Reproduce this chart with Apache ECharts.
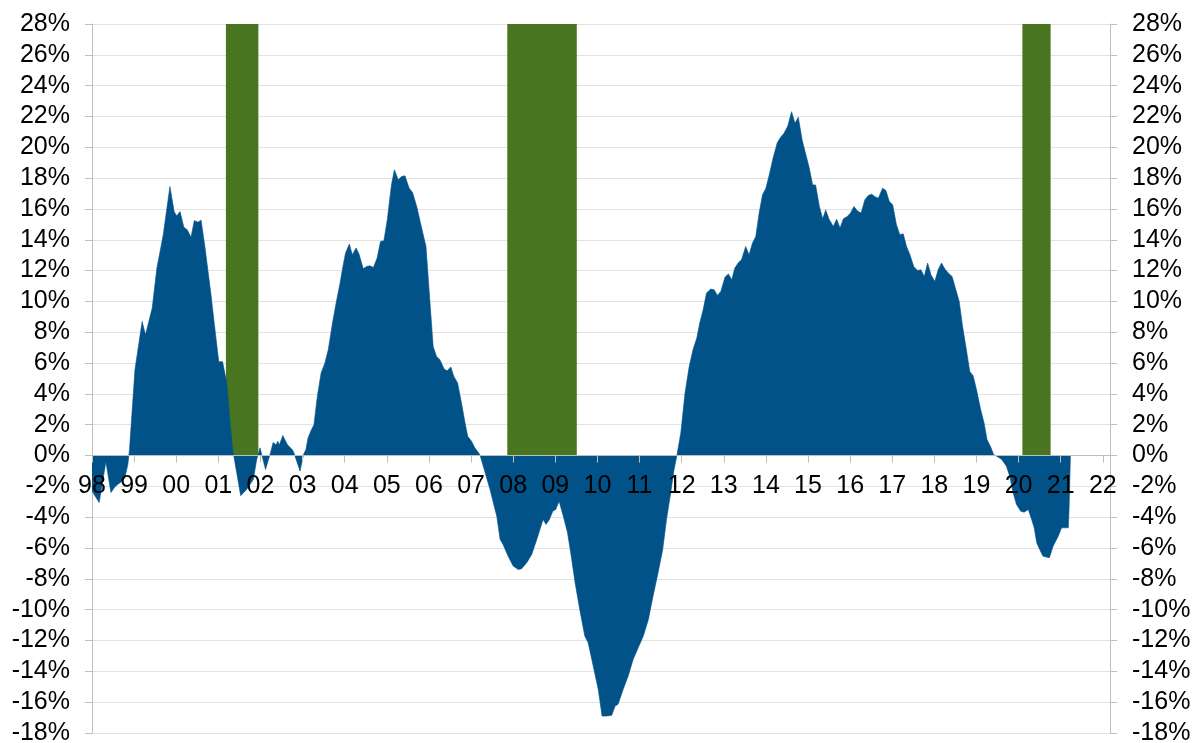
<!DOCTYPE html>
<html>
<head>
<meta charset="utf-8">
<title>Year-over-year change</title>
<script src="https://cdn.jsdelivr.net/npm/echarts@6/dist/echarts.min.js"></script>
<style>
  html, body { margin: 0; padding: 0; background: #fff; }
  #chart { width: 1196px; height: 743px; }
</style>
</head>
<body>
<div id="chart"></div>
<script>
// Observation dates as decimal years
const dates = [
  1998.00, 1998.17, 1998.33, 1998.45, 1998.55, 1998.71, 1998.78, 1998.85, 1998.89,
  1999.02, 1999.19, 1999.27, 1999.43, 1999.54, 1999.69, 1999.85, 1999.95,
  2000.01, 2000.09, 2000.18, 2000.26, 2000.35, 2000.43, 2000.51, 2000.59, 2000.68, 2000.82, 2000.92,
  2001.01, 2001.10, 2001.20, 2001.28, 2001.34, 2001.53, 2001.67, 2001.83, 2001.91, 2001.99,
  2002.12, 2002.24, 2002.30, 2002.37, 2002.41, 2002.45, 2002.53, 2002.64, 2002.74, 2002.78, 2002.94,
  2003.02, 2003.08, 2003.13, 2003.21, 2003.27, 2003.35, 2003.44, 2003.53, 2003.61, 2003.71, 2003.81, 2003.89, 2003.95,
  2004.02, 2004.11, 2004.18, 2004.27, 2004.34, 2004.44, 2004.52, 2004.60, 2004.68, 2004.77, 2004.85, 2004.93,
  2005.01, 2005.11, 2005.18, 2005.27, 2005.35, 2005.43, 2005.53, 2005.61, 2005.71, 2005.80, 2005.93,
  2006.02, 2006.10, 2006.18, 2006.26, 2006.36, 2006.43, 2006.52, 2006.59, 2006.68, 2006.78, 2006.85, 2006.92,
  2007.01, 2007.09, 2007.21, 2007.45, 2007.61, 2007.69, 2007.76, 2007.88,
  2008.00, 2008.12, 2008.20, 2008.32, 2008.44, 2008.56, 2008.66, 2008.71, 2008.78, 2008.86, 2008.94,
  2009.01, 2009.09, 2009.19, 2009.29, 2009.39, 2009.47, 2009.58, 2009.70, 2009.78, 2009.90,
  2010.02, 2010.11, 2010.22, 2010.34, 2010.42, 2010.49, 2010.61, 2010.73, 2010.85, 2010.97,
  2011.09, 2011.21, 2011.32, 2011.44, 2011.55, 2011.64, 2011.74, 2011.82, 2011.88, 2011.98,
  2012.08, 2012.18, 2012.27, 2012.36, 2012.43, 2012.51, 2012.59, 2012.69, 2012.77, 2012.85, 2012.93,
  2013.03, 2013.11, 2013.19, 2013.26, 2013.34, 2013.42, 2013.52, 2013.60, 2013.68, 2013.76, 2013.84, 2013.92,
  2014.00, 2014.08, 2014.17, 2014.27, 2014.35, 2014.43, 2014.52, 2014.61, 2014.69, 2014.77, 2014.86, 2014.95,
  2015.03, 2015.11, 2015.18, 2015.27, 2015.35, 2015.42, 2015.50, 2015.60, 2015.68, 2015.76, 2015.84, 2015.93,
  2016.01, 2016.09, 2016.17, 2016.26, 2016.35, 2016.43, 2016.51, 2016.59, 2016.67, 2016.77, 2016.85, 2016.93,
  2017.01, 2017.10, 2017.18, 2017.26, 2017.34, 2017.42, 2017.51, 2017.60, 2017.68, 2017.76, 2017.84, 2017.92,
  2018.01, 2018.09, 2018.17, 2018.25, 2018.33, 2018.42, 2018.51, 2018.59, 2018.67, 2018.76, 2018.84, 2018.92,
  2019.00, 2019.10, 2019.18, 2019.25, 2019.33, 2019.41, 2019.51, 2019.60, 2019.71, 2019.79, 2019.87, 2019.95,
  2020.05, 2020.13, 2020.23, 2020.31, 2020.37, 2020.43, 2020.50, 2020.58, 2020.73, 2020.82, 2020.94,
  2021.02, 2021.10, 2021.18, 2021.20, 2021.23
];

// Year-over-year change, percent
const growth = [
  -2.3, -3.05, -0.4, -2.4, -2.0, -1.66, -1.43, -0.6, 0.4,
  5.57, 8.7, 7.84, 9.57, 12.16, 14.3, 17.45, 15.83,
  15.55, 15.83, 14.82, 14.65, 14.17, 15.25, 15.14, 15.27, 13.56, 10.54, 8.17,
  6.09, 6.09, 4.71, 2.12, 0.4, -2.6, -2.2, -1.56, -0.26, 0.5,
  -0.9, 0.2, 0.84, 0.7, 0.93, 0.7, 1.3, 0.7, 0.43, 0.28, -1.0,
  0.06, 0.4, 1.15, 1.68, 2.0, 3.84, 5.36, 6.0, 6.87, 8.6, 10.1, 11.19, 12.16,
  13.14, 13.72, 13.03, 13.46, 13.07, 12.12, 12.27, 12.31, 12.2, 12.81, 13.89, 13.93,
  15.29, 17.56, 18.54, 17.89, 18.1, 18.15, 17.35, 17.07, 16.16, 15.08, 13.56,
  10.1, 7.08, 6.43, 6.22, 5.62, 5.5, 5.75, 5.14, 4.71, 3.3, 2.22, 1.25,
  0.93, 0.5, 0.06, -2.2, -3.93, -5.44, -5.77, -6.53,
  -7.17, -7.39, -7.34, -6.96, -6.42, -5.44, -4.58, -4.15, -4.47, -4.15, -3.61,
  -3.5, -2.96, -3.93, -5.0, -6.74, -8.25, -9.98, -11.71, -12.14, -13.65,
  -15.17, -16.9, -16.9, -16.85, -16.25, -16.14, -15.17, -14.3, -13.22, -12.46,
  -11.71, -10.63, -9.12, -7.6, -6.09, -4.15, -2.42, -0.9, -0.1, 1.47,
  4.06, 5.79, 6.87, 7.63, 8.6, 9.46, 10.54, 10.8, 10.76, 10.39, 10.65,
  11.58, 11.78, 11.41, 12.16, 12.49, 12.7, 13.56, 13.03, 13.78, 14.21, 15.73, 16.92,
  17.35, 18.21, 19.29, 20.3, 20.65, 20.91, 21.39, 22.31, 21.56, 21.95, 20.48, 19.51,
  18.65, 17.56, 17.56, 16.16, 15.36, 15.94, 15.34, 14.86, 15.34, 14.76, 15.36, 15.51,
  15.73, 16.16, 15.88, 15.73, 16.59, 16.87, 16.96, 16.8, 16.7, 17.35, 17.19, 16.48,
  16.27, 14.97, 14.32, 14.39, 13.56, 13.03, 12.27, 12.01, 12.05, 11.62, 12.49, 11.73,
  11.3, 12.05, 12.49, 12.1, 11.84, 11.62, 10.76, 10.0, 8.38, 6.87, 5.46, 5.18,
  4.28, 2.98, 2.12, 1.04, 0.6, 0.06, -0.09, -0.26, -0.69, -1.34, -2.42, -3.18,
  -3.61, -3.67, -3.5, -4.15, -4.69, -5.66, -6.09, -6.53, -6.63, -5.88, -5.23,
  -4.69, -4.69, -4.69, -3.28, 0.0
];

// Recession periods: start, end (decimal years)
const recessionStart = [2001.18, 2007.86, 2020.09];
const recessionEnd   = [2001.95, 2009.51, 2020.76];

// Year tick labels along the zero line
const yearTicks = [1998, 1999, 2000, 2001, 2002, 2003, 2004, 2005, 2006, 2007, 2008, 2009,
                   2010, 2011, 2012, 2013, 2014, 2015, 2016, 2017, 2018, 2019, 2020, 2021, 2022];
const yearLabels = ['98', '99', '00', '01', '02', '03', '04', '05', '06', '07', '08', '09',
                    '10', '11', '12', '13', '14', '15', '16', '17', '18', '19', '20', '21', '22'];

// Axis ranges
const yMin = -18, yMax = 28, yStep = 2;
const xMin = 1998, xMax = 2022.17;

const BLUE = '#005288';
const GREEN = '#4a7520';
const AXIS_GRAY = '#bfbfbf';
const GRID_GRAY = '#e2e2e2';
const FONT = '"Liberation Sans", Arial, "DejaVu Sans", sans-serif';
const FONT_SIZE = 25;

const chart = echarts.init(document.getElementById('chart'), null, { renderer: 'canvas' });

const areaData = dates.map((d, i) => [d, growth[i]]);
const recessionData = recessionStart.map((s, i) => [s, recessionEnd[i], yMax]);
const yearLabelData = yearTicks.map((t, i) => [t, 0, yearLabels[i]]);

const yAxisCommon = {
  type: 'value',
  min: yMin,
  max: yMax,
  interval: yStep,
  axisLine: { show: true, lineStyle: { color: AXIS_GRAY, width: 1 } },
  axisTick: { show: true, inside: false, length: 7, lineStyle: { color: AXIS_GRAY } },
  axisLabel: {
    formatter: '{value}%',
    color: '#000',
    fontSize: FONT_SIZE,
    fontFamily: FONT,
    margin: 22
  }
};

chart.setOption({
  animation: false,
  backgroundColor: '#fff',
  grid: {
    left: 92, right: 86, top: 24, bottom: 10,
    containLabel: false,
    outerBoundsMode: 'none'
  },
  xAxis: {
    type: 'value',
    min: xMin,
    max: xMax,
    interval: 1,
    z: 5,
    axisLine: { show: true, onZero: true, onZeroAxisIndex: 0, lineStyle: { color: AXIS_GRAY, width: 1 } },
    axisTick: { show: true, length: 7, lineStyle: { color: AXIS_GRAY } },
    splitLine: { show: false },
    axisLabel: { show: false }
  },
  yAxis: [
    Object.assign({}, yAxisCommon, {
      position: 'left',
      splitLine: { show: true, lineStyle: { color: GRID_GRAY, width: 1 } }
    }),
    Object.assign({}, yAxisCommon, {
      position: 'right',
      splitLine: { show: false }
    })
  ],
  series: [
    {
      name: 'Recession',
      type: 'custom',
      z: 1,
      silent: true,
      data: recessionData,
      encode: { x: [0, 1], y: 2 },
      renderItem: (params, api) => {
        const p0 = api.coord([api.value(0), 0]);
        const p1 = api.coord([api.value(1), api.value(2)]);
        return {
          type: 'rect',
          shape: { x: p0[0], y: p1[1], width: p1[0] - p0[0], height: p0[1] - p1[1] },
          style: { fill: GREEN }
        };
      }
    },
    {
      name: 'YoY',
      type: 'line',
      z: 2,
      data: areaData,
      showSymbol: false,
      symbol: 'none',
      smooth: false,
      lineStyle: { width: 0.6, color: BLUE },
      areaStyle: { color: BLUE, opacity: 1, origin: 0 }
    },
    {
      // Year labels hung just below the zero line
      name: 'Years',
      type: 'custom',
      z: 10,
      silent: true,
      clip: false,
      data: yearLabelData,
      encode: { x: 0, y: 1 },
      renderItem: (params, api) => {
        const p = api.coord([api.value(0), api.value(1)]);
        return {
          type: 'text',
          style: {
            text: yearLabelData[params.dataIndex][2],
            x: p[0],
            y: p[1] + 18,
            align: 'center',
            verticalAlign: 'top',
            fill: '#000',
            fontSize: FONT_SIZE,
            fontFamily: FONT
          }
        };
      }
    }
  ]
});
</script>
</body>
</html>
